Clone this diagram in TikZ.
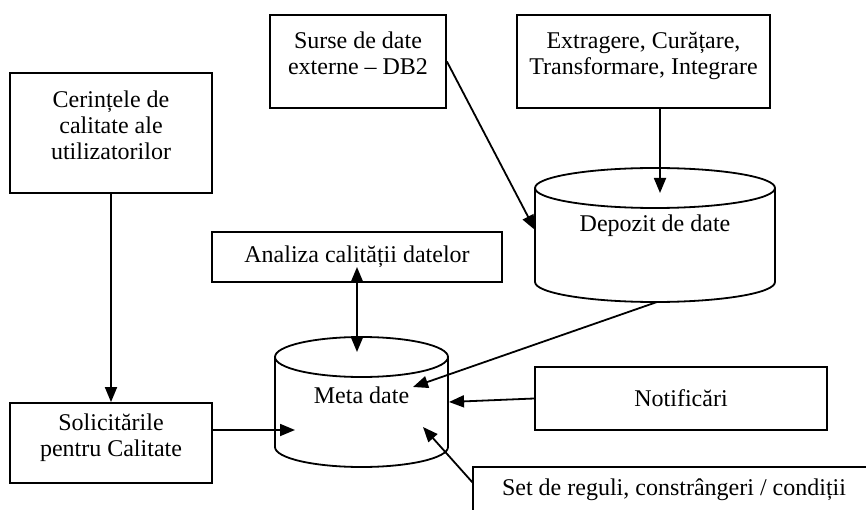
\documentclass[tikz,border=0pt]{standalone}
\usepackage{fontspec}
\setmainfont{Liberation Serif}
\usetikzlibrary{arrows.meta}
\begin{document}
\begin{tikzpicture}
[x=1pt,y=-1pt,
  boxdecorate/.style={shape=rectangle,draw,line width=1.8pt,align=center,inner sep=0pt,font=\fontsize{24}{26}\selectfont},%
  boxupdecorate/.style={boxdecorate,text depth=16pt},%
  textdecorate/.style={inner sep=0pt,align=center,font=\fontsize{24}{26}\selectfont},%
  linedecorate/.style={-,line width=1.8pt},%
  arrowdecorate/.style={-{Triangle[length=15pt,width=12pt]},line width=1.8pt},%
  bothdecorate/.style={{Triangle[length=15pt,width=12pt]}-{Triangle[length=15pt,width=12pt]},line width=1.8pt}]
\useasboundingbox (0,0) rectangle (866,510);
\clip (0,0) rectangle (866,510);
%%% boxes
% nodes or rectangles
\node (cerinte) at (111,133) [boxupdecorate,minimum width=202,minimum height=120] {Cerințele de\\calitate ale\\utilizatorilor};
\node (surse) at (358,61.5) [boxupdecorate,minimum width=176,minimum height=93] {Surse de date\\externe -- DB2};
\node (extragere) at (643.5,61.5) [boxupdecorate,minimum width=253,minimum height=93] {Extragere, Curățare,\\Transformare, Integrare};
\node (analiza) at (357,257) [boxdecorate,minimum width=290,minimum height=50] {Analiza calității datelor};
\node (solicitari) at (111,443) [boxupdecorate,minimum width=202,minimum height=80] {Solicitările\\pentru Calitate};
\node (notificari) at (681,398.5) [boxdecorate,minimum width=292,minimum height=63] {Notificări};
\node (set) at (674,490) [textdecorate] {Set de reguli, constrângeri / condiții};
\draw[linedecorate] (473,540) |- (900,467);
%
%%% cylinders
% depozit de date
\draw[linedecorate] (655,188) ellipse [x radius=120pt,y radius=20pt];
\draw[linedecorate] (535,188) -- (535,282) arc[start angle=180,end angle=360,x radius=120pt,y radius=20pt] -- (775,188);
\node (depozit) at (655,226) [textdecorate] {Depozit de date};
% meta date
\draw[linedecorate] (361.5,357) ellipse [x radius=86.5pt,y radius=20pt];
\draw[linedecorate] (275,357) -- (275,447) arc[start angle=180,end angle=360,x radius=86.5pt,y radius=20pt] -- (448,357);
\node (meta) at (361.5,395) [textdecorate] {Meta date};
%
%%% ends of connectors
\coordinate (extrout) at (660,108);
\coordinate (depotop) at (660,193);
\coordinate (depoleft) at (535,230);
\coordinate (depoout) at (657,302);
\coordinate (analizain) at (357,267);
\coordinate (metatop) at (357,352);
\coordinate (metaleft) at (295,430);
\coordinate (solout) at (212,430);
\coordinate (metadepo) at (413,387);
\coordinate (metaright) at (449,402);
\coordinate (metaset) at (423,427);
\coordinate (setout) at (473,483);
% edges or arrows
\path
(surse.east) edge[arrowdecorate] (depoleft)
(extrout) edge[arrowdecorate] (depotop)
(cerinte.south) edge[arrowdecorate] (solicitari.north)
(solout) edge[arrowdecorate] (metaleft)
(analizain) edge[bothdecorate] (metatop)
(depoout) edge[arrowdecorate] (metadepo)
(notificari.west) edge[arrowdecorate] (metaright)
(setout) edge[arrowdecorate] (metaset);
\end{tikzpicture}
\end{document}
